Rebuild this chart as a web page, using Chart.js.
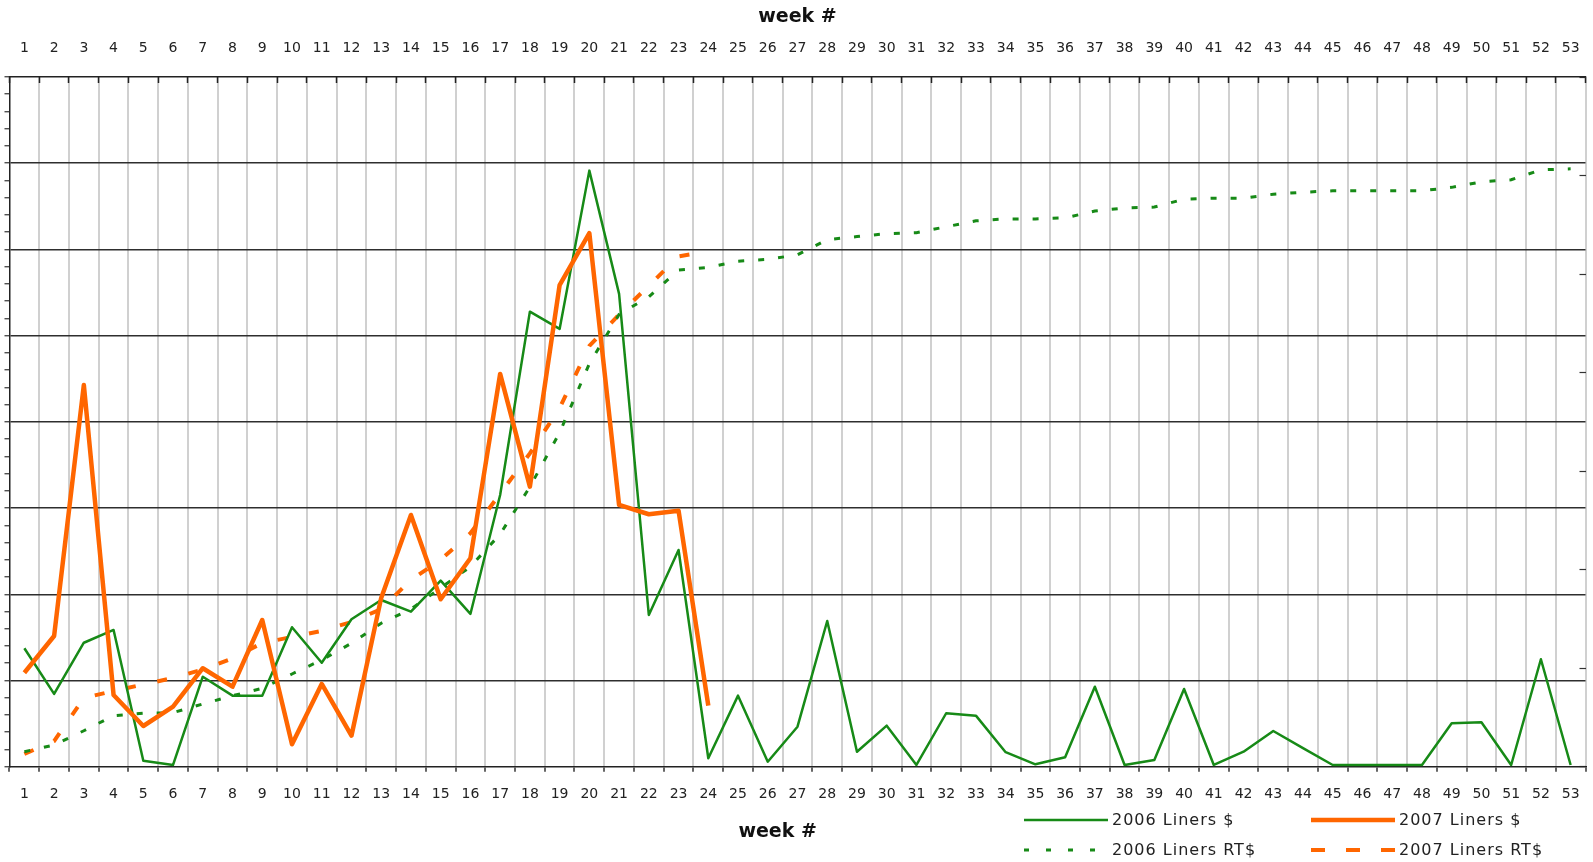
<!DOCTYPE html>
<html>
<head>
<meta charset="utf-8">
<script src="https://cdn.jsdelivr.net/npm/chart.js@4.4.1/dist/chart.umd.min.js"></script>
<style>
html,body{margin:0;padding:0;background:#ffffff;}
#wrap{width:1593px;height:862px;}
</style>
</head>
<body>
<div id="wrap"><canvas id="c" width="1593" height="862"></canvas></div>
<script>
// ---- data ----
const weekLabels = ['1','2','3','4','5','6','7','8','9','10','11','12','13','14','15','16','17','18','19','20',
  '21','22','23','24','25','26','27','28','29','30','31','32','33','34','35','36','37','38','39','40',
  '41','42','43','44','45','46','47','48','49','50','51','52','53'];

// weekly dollars (left axis units)
const liners2006 = [6.87,4.22,7.19,7.93,0.35,0.1,5.22,4.12,4.12,8.09,6.03,8.55,9.67,8.99,10.79,8.86,15.76,26.39,25.39,34.57,
  27.42,8.8,12.57,0.49,4.12,0.29,2.32,8.45,0.87,2.38,0.1,3.1,2.96,0.84,0.14,0.55,4.64,0.1,0.39,4.51,
  0.1,0.87,2.07,1.08,0.1,0.1,0.1,0.1,2.52,2.58,0.1,6.23,0.1];
const liners2007 = [5.45,7.58,22.14,4.16,2.36,3.48,5.71,4.64,8.51,1.3,4.8,1.8,9.79,14.6,9.71,12.09,22.78,16.24,27.93,30.94,
  15.18,14.64,14.85,3.54,null,null,null,null,null,null,null,null,null,null,null,null,null,null,null,null,
  null,null,null,null,null,null,null,null,null,null,null,null,null];

// running totals (right axis units)
const linersRT2006 = [0.152,0.22,0.365,0.518,0.542,0.548,0.637,0.72,0.796,0.941,1.083,1.253,1.456,1.6,1.814,2.03,2.36,2.84,3.39,4.09,
  4.59,4.77,5.04,5.068,5.13,5.15,5.195,5.35,5.38,5.41,5.42,5.48,5.54,5.56,5.56,5.57,5.64,5.67,5.68,5.76,
  5.77,5.77,5.81,5.83,5.845,5.845,5.845,5.845,5.88,5.936,5.957,6.058,6.068];
const linersRT2007 = [0.129,0.26,0.697,0.769,0.835,0.9,0.987,1.10,1.256,1.317,1.378,1.469,1.60,1.895,2.1,2.37,2.77,3.18,3.64,4.27,
  4.59,4.88,5.18,5.23,null,null,null,null,null,null,null,null,null,null,null,null,null,null,null,null,
  null,null,null,null,null,null,null,null,null,null,null,null,null];

const seriesNames = ['2006 Liners $','2007 Liners $','2006 Liners RT$','2007 Liners RT$'];

// ---- styles ----
const GREEN = '#178a17';
const ORANGE = '#ff6600';
const FONT = 'DejaVu Sans';

const cornerLegend = {
  id: 'cornerLegend',
  afterDraw(chart) {
    const ctx = chart.ctx;
    const ds = chart.data.datasets;
    const colX = [1024, 1311];
    const rowY = [820, 850];
    ctx.save();
    ds.forEach((d, i) => {
      const x = colX[i % 2], y = rowY[Math.floor(i / 2)];
      ctx.beginPath();
      ctx.strokeStyle = d.borderColor;
      ctx.lineWidth = d.borderWidth;
      ctx.setLineDash(d.legendDash || []);
      ctx.moveTo(x, y);
      ctx.lineTo(x + 84, y);
      ctx.stroke();
      ctx.setLineDash([]);
      ctx.fillStyle = '#222';
      ctx.font = '16px "' + FONT + '"';
      ctx.textBaseline = 'middle';
      ctx.textAlign = 'left';
      try { ctx.letterSpacing = '1px'; } catch (e) {}
      ctx.fillText(d.label, x + 88, y + 1);
    });
    ctx.restore();
  }
};

const titleFont = { family: FONT, size: 19, weight: 'bold' };

new Chart(document.getElementById('c'), {
  type: 'line',
  data: {
    labels: weekLabels,
    datasets: [
      { label: seriesNames[0], data: liners2006, borderColor: GREEN, borderWidth: 2.5, yAxisID: 'y', order: 1,
        borderJoinStyle: 'round', pointRadius: 0, tension: 0, fill: false },
      { label: seriesNames[1], data: liners2007, borderColor: ORANGE, borderWidth: 4.5, yAxisID: 'y', order: 0,
        borderJoinStyle: 'round', pointRadius: 0, tension: 0, fill: false },
      { label: seriesNames[2], data: linersRT2006, borderColor: GREEN, borderWidth: 3, borderDash: [6, 14], legendDash: [5, 17],
        yAxisID: 'y2', order: 2, pointRadius: 0, tension: 0, fill: false },
      { label: seriesNames[3], data: linersRT2007, borderColor: ORANGE, borderWidth: 4, borderDash: [10, 22], legendDash: [14, 21],
        yAxisID: 'y2', order: 3, pointRadius: 0, tension: 0, fill: false }
    ]
  },
  options: {
    responsive: false,
    animation: false,
    layout: { padding: { left: 4.5, right: 7.5, top: 0, bottom: 14.6 } },
    plugins: { legend: { display: false }, tooltip: { enabled: false } },
    scales: {
      x: {
        type: 'category', position: 'bottom', offset: true,
        grid: {
          offset: true,
          color: c => (c.index === 0 || c.index === 53) ? 'rgba(0,0,0,0)' : '#d0d0d0',
          lineWidth: 2, tickColor: '#333', tickLength: 5, tickWidth: 1.5
        },
        border: { display: true, color: '#222', width: 1.5 },
        ticks: { color: '#222', font: { family: FONT, size: 14, lineHeight: '46px' }, padding: 0, maxRotation: 0, autoSkip: false },
        title: { display: true, text: 'week #      ', color: '#111', font: titleFont, padding: { top: 2.9, bottom: 4 } }
      },
      x2: {
        type: 'category', position: 'top', offset: true,
        grid: { offset: true, drawOnChartArea: false, tickLength: -6, tickColor: '#222', tickWidth: 1.5 },
        border: { display: true, color: '#222', width: 1.5 },
        ticks: { color: '#222', font: { family: FONT, size: 14, lineHeight: '69px' }, padding: 0, maxRotation: 0, autoSkip: false },
        title: { display: true, text: 'week #', color: '#111', font: titleFont, padding: { top: 5.4, bottom: -14.2 } }
      },
      y: {
        position: 'left', min: 0, max: 40,
        ticks: { display: false, stepSize: 1 },
        grid: {
          color: c => (c.tick && c.tick.value % 5 === 0 && c.tick.value > 0 && c.tick.value < 40) ? '#2e2e2e' : 'rgba(0,0,0,0)',
          lineWidth: 1.5, tickColor: '#333', tickLength: 5, tickWidth: 1.2
        },
        border: { display: true, color: '#222', width: 1.5 }
      },
      y2: {
        position: 'right', min: 0, max: 7,
        ticks: { display: false, stepSize: 1 },
        grid: { drawOnChartArea: false, tickLength: -6, tickColor: '#333', tickWidth: 1.2 },
        border: { display: false }
      }
    }
  },
  plugins: [cornerLegend]
});
</script>
</body>
</html>
